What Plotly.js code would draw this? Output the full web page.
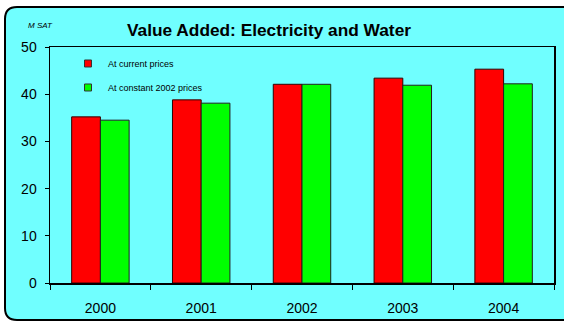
<!DOCTYPE html>
<html>
<head>
<meta charset="utf-8">
<script src="https://cdn.plot.ly/plotly-3.0.1.min.js"></script>
<style>
  html, body { margin: 0; padding: 0; background: #ffffff; overflow: hidden; }
  #chart { width: 564px; height: 322px; }
</style>
</head>
<body>
<div id="chart"></div>
<script>
const years = ['2000', '2001', '2002', '2003', '2004'];
const currentPrices = [35.2, 38.8, 42.1, 43.4, 45.3];
const constantPrices = [34.5, 38.1, 42.1, 41.9, 42.2];
const seriesNames = ['At current prices', 'At constant 2002 prices'];
const seriesColors = ['#ff0000', '#00ff00'];

const W = 564, H = 322;
const L = 50, R = 10, T = 47, B = 38.5;
const pw = W - L - R, ph = H - T - B;
const font = 'Liberation Sans, Arial, sans-serif';

// pixel -> paper helpers for the decorative frame (open on the right, as in the reference)
const px = v => (v - L) / pw;
const py = v => (H - B - v) / ph;
function openFrame(x0, y0, x1, y1, r) {
  return 'M' + px(x1) + ',' + py(y0) +
    ' L' + px(x0 + r) + ',' + py(y0) +
    ' Q' + px(x0) + ',' + py(y0) + ' ' + px(x0) + ',' + py(y0 + r) +
    ' L' + px(x0) + ',' + py(y1 - r) +
    ' Q' + px(x0) + ',' + py(y1) + ' ' + px(x0 + r) + ',' + py(y1) +
    ' L' + px(x1) + ',' + py(y1);
}
function fillRect(x0, y0, x1, y1, r) {
  return openFrame(x0, y0, x1, y1, r) + ' L' + px(x1) + ',' + py(y0) + ' Z';
}

const traces = [
  { type: 'bar', x: years, y: currentPrices, name: seriesNames[0], showlegend: false,
    marker: { color: seriesColors[0], line: { color: '#300', width: 1 } } },
  { type: 'bar', x: years, y: constantPrices, name: seriesNames[1], showlegend: false,
    marker: { color: seriesColors[1], line: { color: '#222', width: 1 } } },
  { type: 'scatter', mode: 'markers', x: [null], y: [null], name: seriesNames[0], legendgroup: 'a',
    marker: { symbol: 'square', size: 7, color: seriesColors[0], line: { color: '#333', width: 1 } } },
  { type: 'scatter', mode: 'markers', x: [null], y: [null], name: seriesNames[1], legendgroup: 'b',
    marker: { symbol: 'square', size: 7, color: seriesColors[1], line: { color: '#333', width: 1 } } }
];

const layout = {
  width: W, height: H,
  margin: { l: L, r: R, t: T, b: B, pad: 0 },
  paper_bgcolor: '#ffffff',
  plot_bgcolor: '#ffffff',
  font: { family: font, color: '#000' },
  barmode: 'group', bargap: 0.43, bargroupgap: 0,
  title: { text: '<b>Value Added: Electricity and Water</b>', font: { size: 17.3, family: font, color: '#000' },
           x: 269 / W, xanchor: 'center', y: 1 - 29.5 / H, yanchor: 'middle', xref: 'container', yref: 'container' },
  xaxis: { type: 'category', showgrid: false, ticks: 'outside', tickson: 'boundaries', ticklen: 5,
           tickcolor: '#000', tickwidth: 1, showline: true, linecolor: '#000', linewidth: 1.5, mirror: true,
           ticklabelstandoff: 12,
           tickfont: { size: 14, family: font, color: '#000' }, fixedrange: true },
  yaxis: { range: [0, 50], dtick: 10, showgrid: false, zeroline: false, ticks: 'outside', ticklen: 4,
           tickcolor: '#000', tickwidth: 1, showline: true, linecolor: '#000', linewidth: 1.5, mirror: true,
           ticklabelstandoff: 5,
           tickfont: { size: 14, family: font, color: '#000' }, fixedrange: true },
  showlegend: true,
  legend: { x: (68 - L) / pw, y: 1 - (49 - T) / ph, xanchor: 'left', yanchor: 'top',
            bgcolor: 'rgba(0,0,0,0)', font: { size: 9, family: font, color: '#000' },
            traceorder: 'grouped', tracegroupgap: 5, itemwidth: 30 },
  shapes: [
    { type: 'path', xref: 'paper', yref: 'paper', layer: 'below',
      path: fillRect(5, 7, 700, 320.5, 12),
      fillcolor: '#70ffff', line: { width: 0 } },
    { type: 'path', xref: 'paper', yref: 'paper', layer: 'below',
      path: openFrame(5, 7, 700, 320.5, 12),
      fillcolor: 'rgba(0,0,0,0)', line: { color: '#000', width: 2 } }
  ],
  annotations: [
    { text: '<i>M SAT</i>', xref: 'paper', yref: 'paper', x: px(40), y: py(25),
      xanchor: 'center', yanchor: 'middle', showarrow: false, font: { size: 8, family: font, color: '#000' } }
  ]
};

Plotly.newPlot('chart', traces, layout, { staticPlot: true, displayModeBar: false });
</script>
</body>
</html>
